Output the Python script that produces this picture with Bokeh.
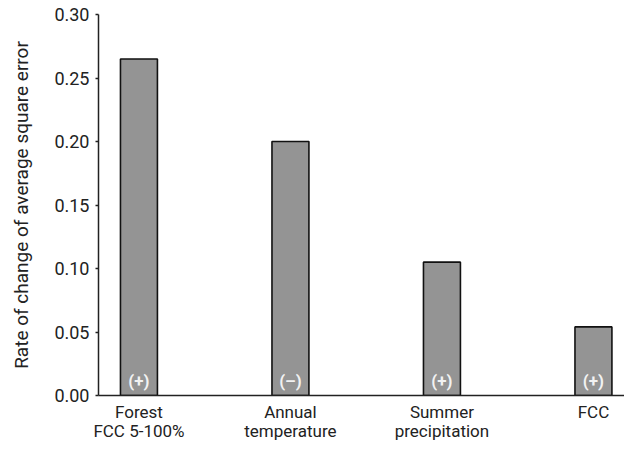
from bokeh.plotting import figure
from bokeh.models import Range1d, FixedTicker, PrintfTickFormatter, ColumnDataSource
from bokeh.embed import file_html
from bokeh.resources import INLINE
from bokeh.core.properties import value

# ---- data ----
categories = ["Forest\nFCC 5-100%", "Annual\ntemperature", "Summer\nprecipitation", "FCC"]
positions = [1, 2, 3, 4]
rates = [0.265, 0.200, 0.105, 0.054]
signs = ["(+)", "(\u2013)", "(+)", "(+)"]
y_ticks = [0.00, 0.05, 0.10, 0.15, 0.20, 0.25, 0.30]

FONT = "Roboto"

p = figure(width=624, height=443, output_backend="svg", toolbar_location=None,
           x_range=Range1d(0.733, 4.205), y_range=Range1d(0, 0.30),
           min_border_left=98, min_border_right=0, min_border_top=14, min_border_bottom=48)

p.background_fill_color = "white"
p.border_fill_color = "white"
p.outline_line_color = None
p.xgrid.visible = False
p.ygrid.visible = False

src = ColumnDataSource(dict(x=positions, top=rates, sign=signs, base=[0] * len(positions)))
p.vbar(x="x", top="top", width=0.244, source=src, fill_color="#949494",
       line_color="#111111", line_width=1.6)
p.text(x="x", y="base", text="sign", source=src, text_align="center",
       text_baseline="middle", y_offset=-15, text_color="#f2f2f2",
       text_font=value(FONT), text_font_size="17px", text_font_style="bold")

# y axis
ya = p.yaxis[0]
ya.ticker = FixedTicker(ticks=y_ticks)
ya.formatter = PrintfTickFormatter(format="%.2f")
ya.minor_tick_line_color = None
ya.major_tick_in = 0
ya.major_tick_out = 3
ya.major_tick_line_width = 1.5
ya.axis_line_width = 1.5
ya.axis_line_color = "#222222"
ya.major_tick_line_color = "#222222"
ya.major_label_text_font = FONT
ya.major_label_text_font_size = "18px"
ya.major_label_text_color = "#222222"
ya.major_label_standoff = 6
ya.axis_label = "Rate of change of average square error"
ya.axis_label_text_font = FONT
ya.axis_label_text_font_size = "19px"
ya.axis_label_text_font_style = "normal"
ya.axis_label_text_color = "#222222"
ya.axis_label_standoff = 18

# x axis
xa = p.xaxis[0]
xa.ticker = FixedTicker(ticks=positions)
xa.major_label_overrides = {pos: lab for pos, lab in zip(positions, categories)}
xa.major_tick_line_color = None
xa.minor_tick_line_color = None
xa.axis_line_width = 1.5
xa.axis_line_color = "#222222"
xa.major_label_text_font = FONT
xa.major_label_text_font_size = "17px"
xa.major_label_text_line_height = 0.97
xa.major_label_text_color = "#222222"
xa.major_label_standoff = 0

open("out.html", "w").write(file_html(p, INLINE))
